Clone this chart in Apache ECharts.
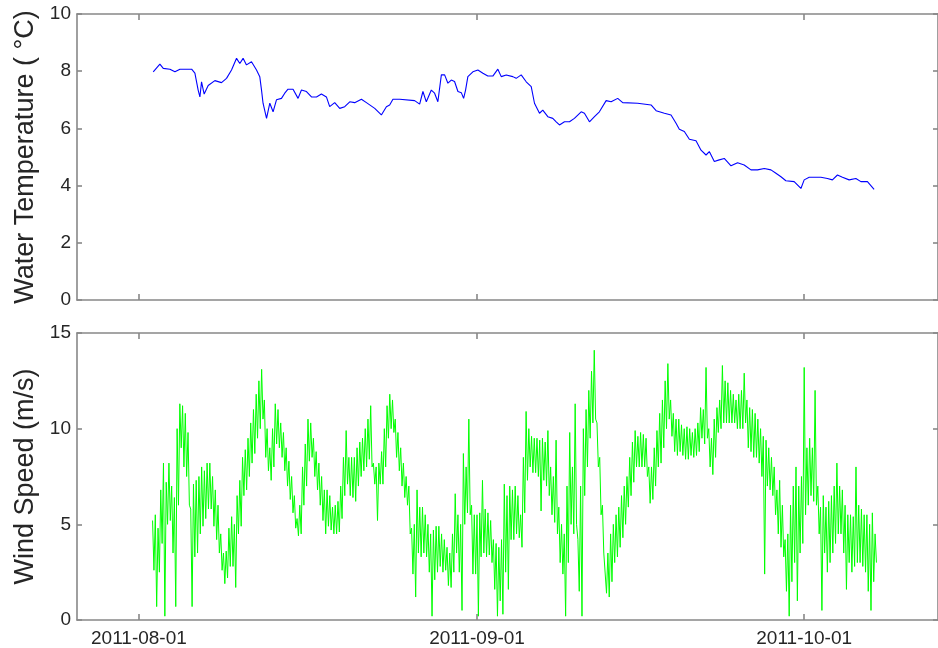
<!DOCTYPE html>
<html>
<head>
<meta charset="utf-8">
<script src="https://cdn.jsdelivr.net/npm/echarts@6/dist/echarts.min.js"></script>
<style>
html,body{margin:0;padding:0;background:#fff;}
#chart{width:938px;height:648px;}
</style>
</head>
<body>
<div id="chart"></div>
<script>
// x values are days since 2011-08-01
const xTickDays = [0, 31, 61];
const xTickLabels = ['2011-08-01', '2011-09-01', '2011-10-01'];
const xMinDay = -5.68;
const xMaxDay = 73.27;

const tempTicks = [0, 2, 4, 6, 8, 10];
const windTicks = [0, 5, 10, 15];

const tempDays = [1.31,1.92,2.23,2.84,3.30,3.76,4.83,5.13,5.43,5.59,5.74,5.98,6.35,6.96,7.57,8.03,8.49,8.95,9.25,9.55,9.86,10.32,10.78,11.08,11.24,11.38,11.70,12.00,12.30,12.61,13.07,13.37,13.67,14.13,14.59,14.90,15.36,15.82,16.28,16.73,17.19,17.49,17.95,18.41,18.87,19.33,19.78,20.40,20.86,21.62,22.23,22.69,22.99,23.29,23.91,25.28,25.74,26.04,26.35,26.81,27.11,27.41,27.73,28.03,28.33,28.64,28.94,29.25,29.56,29.77,29.95,30.16,30.62,31.08,31.54,31.99,32.45,32.91,33.22,33.68,34.28,34.59,35.05,35.51,35.97,36.27,36.43,36.73,37.03,37.49,37.95,38.26,38.56,39.02,39.48,39.93,40.55,40.85,41.31,41.77,42.22,42.84,43.30,43.90,44.36,45.73,46.96,47.42,48.18,48.79,49.25,49.55,50.01,50.47,51.08,51.54,52.00,52.30,52.76,53.21,53.67,54.29,54.89,55.50,56.12,56.72,57.34,57.95,58.41,58.87,59.32,60.08,60.70,61.00,61.46,62.53,63.13,63.59,64.05,64.51,65.12,65.74,66.20,66.80,67.41];
const tempValues = [7.98,8.25,8.10,8.07,7.98,8.07,8.07,7.93,7.34,7.10,7.63,7.20,7.50,7.67,7.60,7.75,8.04,8.45,8.27,8.45,8.22,8.33,8.04,7.81,7.34,6.88,6.35,6.88,6.58,7.00,7.05,7.23,7.37,7.37,7.05,7.34,7.29,7.10,7.10,7.20,7.10,6.76,6.90,6.70,6.76,6.93,6.90,7.02,6.90,6.70,6.47,6.76,6.82,7.02,7.02,6.97,6.85,7.29,6.93,7.34,7.23,6.93,7.87,7.87,7.58,7.69,7.64,7.29,7.25,7.05,7.34,7.81,7.98,8.04,7.93,7.83,7.83,8.07,7.81,7.87,7.81,7.75,7.87,7.63,7.46,6.88,6.76,6.53,6.64,6.41,6.35,6.23,6.12,6.23,6.23,6.35,6.58,6.53,6.23,6.41,6.58,6.97,6.93,7.05,6.90,6.88,6.82,6.62,6.53,6.47,6.18,5.97,5.89,5.62,5.57,5.24,5.07,5.19,4.84,4.90,4.95,4.69,4.80,4.72,4.55,4.55,4.60,4.55,4.43,4.31,4.17,4.14,3.90,4.20,4.29,4.29,4.25,4.20,4.37,4.29,4.20,4.25,4.14,4.14,3.87];

// Wind speed read as the upper and lower edge of the band, every 6 hours from day 1.25
const windStartDay = 1.25;
const windStepDays = 0.25;
const windHigh = [
5.2,5.5,4.8,6.8, 8.2,7.2,8.2,7.0, 6.4,10.0,11.3,11.2, 10.8,9.8,5.8,7.1, 7.3,7.5,8.0,7.8,
8.2,8.2,7.5,6.8, 6.0,4.5,3.5,3.6, 4.8,5.4,5.0,6.5, 7.3,8.5,8.9,9.5, 10.3,11.0,11.8,12.5,
13.1,11.5,10.0,9.0, 10.0,11.3,11.0,10.3, 9.8,9.0,8.3,7.5, 6.5,5.3,6.0,8.0, 9.2,10.5,10.3,9.5,
8.8,8.2,7.5,6.8, 6.8,6.5,5.9,6.0, 6.2,7.0,8.5,9.9, 8.5,8.5,8.5,9.0, 9.3,9.5,10.0,10.5,
11.2,8.2,8.0,8.2, 8.8,10.0,11.2,11.8, 11.5,10.5,9.8,9.0, 8.2,7.5,7.0,4.8, 5.0,6.8,5.9,5.9,
5.5,5.0,4.5,4.7, 4.9,4.9,4.5,4.2, 3.8,3.5,4.5,6.6, 5.5,5.0,8.7,8.0, 10.5,6.0,5.5,5.5,
5.6,7.3,5.8,5.6, 5.2,4.2,4.0,3.8, 4.2,7.1,6.5,7.0, 6.8,7.0,6.5,5.5, 8.5,10.9,10.0,9.6,
9.5,9.5,9.4,9.5, 9.3,9.9,8.0,7.5, 9.4,5.9,5.0,4.5, 7.0,9.8,8.0,11.3, 4.2,7.0,10.0,11.0,
12.0,13.0,14.1,10.3, 8.5,6.0,3.5,3.5, 4.5,5.0,5.5,5.9, 6.5,7.0,7.5,8.5, 9.3,9.9,9.6,9.8,
9.7,9.5,8.0,8.0, 9.0,9.9,10.8,11.5, 12.5,13.4,11.5,10.8, 10.5,10.5,10.2,10.0, 10.1,10.0,9.8,10.0,
10.3,11.1,11.0,13.2, 10.0,9.5,10.5,11.1, 11.5,13.3,12.5,12.4, 12.0,11.8,11.5,11.8, 12.0,12.9,11.5,11.1,
11.0,10.8,10.5,10.0, 9.6,9.4,9.0,8.5, 8.0,6.8,7.3,6.0, 4.2,4.5,6.0,7.0, 8.0,7.0,7.5,13.2,
9.0,9.5,9.0,12.0, 7.0,5.9,6.5,5.9, 6.2,6.5,7.0,8.2, 7.0,6.8,6.0,5.5, 5.5,5.4,8.0,6.0,
5.8,5.5,5.5,5.0, 5.6,4.5
];
const windLow = [
2.6,0.7,2.5,4.0, 0.2,5.0,5.2,3.5, 0.7,6.0,9.0,8.0, 7.5,6.0,0.7,3.3, 3.5,4.5,4.9,5.3,
5.8,5.8,4.9,4.2, 3.5,2.6,1.9,2.2, 2.8,2.8,1.7,4.5, 4.9,6.5,6.8,7.5, 8.2,8.7,9.5,10.0,
10.5,8.5,7.8,7.3, 8.0,9.2,9.0,8.5, 7.8,7.0,6.3,5.6, 4.8,4.4,4.5,6.0, 7.0,8.3,8.5,7.5,
6.8,6.0,5.2,4.5, 4.9,4.7,4.5,4.5, 4.6,5.3,6.5,7.1, 6.5,6.4,6.2,7.0, 7.5,7.8,8.0,8.4,
8.0,7.1,5.2,7.1, 7.1,8.0,9.5,10.0, 9.8,8.5,7.8,7.0, 6.4,6.0,4.5,2.4, 1.2,3.5,3.3,3.5,
3.3,2.5,0.2,2.1, 2.5,2.8,2.5,2.6, 1.8,1.7,2.5,3.5, 2.5,0.5,5.0,5.6, 5.5,2.4,2.4,0.2,
3.3,3.5,3.3,3.4, 3.0,1.6,0.2,1.0, 0.3,2.5,1.6,4.2, 4.2,4.5,4.3,3.8, 5.6,7.3,8.0,7.7,
7.7,7.5,5.7,7.3, 7.0,6.5,5.5,5.1, 4.5,3.0,2.4,0.2, 3.0,5.0,4.5,5.0, 1.5,0.2,6.5,8.0,
9.5,10.3,10.5,8.0, 5.5,3.5,1.4,1.2, 2.0,3.0,3.3,3.8, 4.3,5.0,5.9,6.5, 7.2,8.0,8.0,8.0,
8.0,7.5,6.1,6.3, 7.0,8.0,8.2,9.0, 10.0,10.5,9.6,8.8, 8.6,8.8,8.6,8.4, 8.4,8.6,8.5,8.6,
8.8,9.5,9.2,9.5, 8.0,7.6,8.5,9.8, 10.0,10.3,10.3,10.3, 10.3,10.3,10.0,10.0, 10.0,10.3,9.0,8.8,
8.5,8.5,8.2,7.5, 2.4,7.0,6.8,6.5, 5.5,4.5,3.8,3.3, 1.5,0.2,2.0,3.0, 1.0,3.5,4.0,5.5,
6.0,6.5,6.2,6.0, 4.5,0.5,3.5,2.5, 3.0,3.5,4.0,4.5, 4.5,3.5,1.6,3.0, 2.5,2.8,3.0,3.0,
2.8,2.5,1.5,0.5, 2.0,3.0
];

const tempData = tempDays.map((d, i) => [d, tempValues[i]]);
const windData = [];
windHigh.forEach((h, i) => {
  const t = windStartDay + i * windStepDays;
  windData.push([t, h]);
  windData.push([t + windStepDays / 2, windLow[i]]);
});

const FONT = 'Liberation Sans, Arial, sans-serif';
const AXIS_COLOR = '#888888';
const TEXT_COLOR = '#262626';

function xAxis(grid, pos, labels) {
  return {
    type: 'value', gridIndex: grid, position: pos, min: xMinDay, max: xMaxDay,
    axisLine: { show: true, onZero: false, lineStyle: { color: AXIS_COLOR, width: 1.6 } },
    axisTick: { show: true, inside: true, length: 6, customValues: xTickDays, lineStyle: { color: AXIS_COLOR, width: 1.6 } },
    axisLabel: labels ? {
      show: true, customValues: xTickDays, margin: 9, fontSize: 19, color: TEXT_COLOR, fontFamily: FONT,
      formatter: v => { const k = xTickDays.indexOf(Math.round(v)); return k >= 0 ? xTickLabels[k] : ''; }
    } : { show: false },
    splitLine: { show: false }
  };
}
function yAxis(grid, pos, ticks, name) {
  return {
    type: 'value', gridIndex: grid, position: pos,
    min: ticks[0], max: ticks[ticks.length - 1], interval: ticks[1] - ticks[0],
    name: name || '', nameLocation: 'middle', nameGap: 38,
    nameTextStyle: { fontSize: 27, color: TEXT_COLOR, fontFamily: FONT },
    axisLine: { show: true, onZero: false, lineStyle: { color: AXIS_COLOR, width: 1.6 } },
    axisTick: { show: true, inside: true, length: 5, lineStyle: { color: AXIS_COLOR, width: 1.6 } },
    axisLabel: name ? { show: true, margin: 6, fontSize: 19, color: TEXT_COLOR, fontFamily: FONT, showMinLabel: true, showMaxLabel: true } : { show: false },
    splitLine: { show: false }
  };
}

const chart = echarts.init(document.getElementById('chart'), null, { renderer: 'canvas' });
chart.setOption({
  animation: false,
  backgroundColor: '#ffffff',
  grid: [
    { left: 77, top: 14, width: 862, height: 286 },
    { left: 77, top: 333, width: 862, height: 287 }
  ],
  xAxis: [xAxis(0, 'bottom', false), xAxis(0, 'top', false), xAxis(1, 'bottom', true), xAxis(1, 'top', false)],
  yAxis: [yAxis(0, 'left', tempTicks, 'Water Temperature ( °C)'), yAxis(0, 'right', tempTicks), yAxis(1, 'left', windTicks, 'Wind Speed (m/s)'), yAxis(1, 'right', windTicks)],
  series: [
    { type: 'line', xAxisIndex: 0, yAxisIndex: 0, data: tempData, showSymbol: false, symbol: 'none',
      lineStyle: { color: '#0000ff', width: 1.1 } },
    { type: 'line', xAxisIndex: 2, yAxisIndex: 2, data: windData, showSymbol: false, symbol: 'none',
      lineStyle: { color: '#00ff00', width: 1 } }
  ]
});
</script>
</body>
</html>
